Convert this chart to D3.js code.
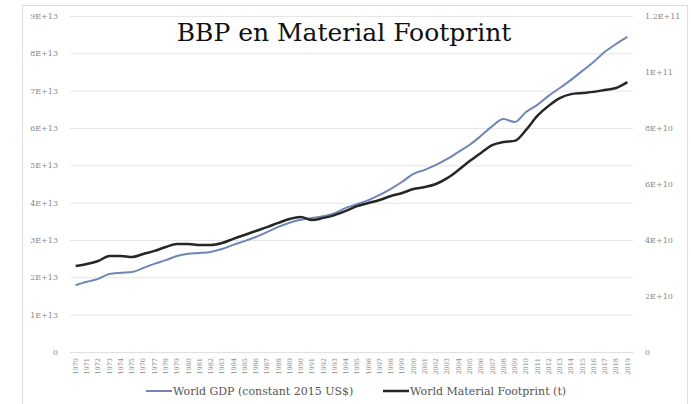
<!DOCTYPE html>
<html>
<head>
<meta charset="utf-8">
<script src="https://cdn.jsdelivr.net/npm/d3@7"></script>
<style>
  body { margin: 0; background: #fff; }
  svg { display: block; font-family: "DejaVu Serif", serif; }
</style>
</head>
<body>
<svg id="chart" width="691" height="404"></svg>
<script>
// years on the category axis
const years = d3.range(1970, 2020)

// World GDP (constant 2015 US$), in units of 1E+13
const gdp = [1.79, 1.88, 1.96, 2.09, 2.12, 2.14, 2.25, 2.36, 2.46, 2.57,
    2.63, 2.65, 2.68, 2.76, 2.87, 2.97, 3.08, 3.21, 3.35, 3.46,
    3.54, 3.59, 3.64, 3.72, 3.86, 3.96, 4.07, 4.21, 4.37, 4.56,
    4.77, 4.88, 5.01, 5.17, 5.36, 5.55, 5.79, 6.05, 6.24, 6.16,
    6.43, 6.62, 6.86, 7.07, 7.29, 7.53, 7.77, 8.04, 8.25, 8.44]

// World Material Footprint (t), in units of 1E+10
const footprint = [3.07, 3.14, 3.25, 3.43, 3.43, 3.39, 3.50, 3.61, 3.75, 3.86,
    3.86, 3.82, 3.82, 3.89, 4.04, 4.18, 4.32, 4.46, 4.61, 4.75,
    4.82, 4.71, 4.79, 4.89, 5.04, 5.21, 5.32, 5.43, 5.57, 5.68,
    5.82, 5.89, 6.00, 6.21, 6.50, 6.82, 7.11, 7.39, 7.50, 7.54,
    7.93, 8.43, 8.79, 9.07, 9.21, 9.25, 9.29, 9.36, 9.43, 9.64]

const leftTicks = [0, 1e13, 2e13, 3e13, 4e13, 5e13, 6e13, 7e13, 8e13, 9e13]
const leftLabels = ["0", "1E+13", "2E+13", "3E+13", "4E+13", "5E+13", "6E+13", "7E+13", "8E+13", "9E+13"]
const rightTicks = [0, 2e10, 4e10, 6e10, 8e10, 1e11, 1.2e11]
const rightLabels = ["0", "2E+10", "4E+10", "6E+10", "8E+10", "1E+11", "1.2E+11"]

const seriesNames = ["World GDP (constant 2015 US$)", "World Material Footprint (t)"]
const seriesColors = ["#6f86b6", "#262626"]

var width = 691,
    height = 404
var margin = { top: 16, right: 58, bottom: 52, left: 70 }

var svg = d3.select("#chart")

// faint chart border
svg.append("rect")
    .attr("x", 22.5).attr("y", 5.5)
    .attr("width", 665).attr("height", 420)
    .attr("fill", "none").attr("stroke", "#dcdcdc")

var x = d3.scaleBand()
    .domain(years)
    .range([margin.left, width - margin.right])
var yL = d3.scaleLinear()
    .domain([0, 9e13])
    .range([height - margin.bottom, margin.top])
var yR = d3.scaleLinear()
    .domain([0, 1.2e11])
    .range([height - margin.bottom, margin.top])

// gridlines from the left axis
svg.append("g")
    .attr("transform", `translate(${margin.left},0)`)
    .call(d3.axisLeft(yL).tickValues(leftTicks).tickSize(-(width - margin.left - margin.right)).tickFormat(""))
    .call(g => g.select(".domain").remove())
    .call(g => g.selectAll("line").attr("stroke", "#e6e6e6"))

// left axis labels
svg.append("g")
    .attr("transform", `translate(${margin.left - 9},0)`)
    .call(d3.axisLeft(yL).tickValues(leftTicks).tickSize(0).tickFormat((d, i) => leftLabels[i]))
    .call(g => g.select(".domain").remove())
    .call(g => g.selectAll("text").attr("fill", "#8a8a8a").attr("font-size", 8).attr("font-family", "DejaVu Serif"))

// right axis labels
svg.append("g")
    .attr("transform", `translate(${width - margin.right + 9},0)`)
    .call(d3.axisRight(yR).tickValues(rightTicks).tickSize(0).tickFormat((d, i) => rightLabels[i]))
    .call(g => g.select(".domain").remove())
    .call(g => g.selectAll("text").attr("fill", "#8a8a8a").attr("font-size", 8).attr("font-family", "DejaVu Serif"))

// category axis
svg.append("g")
    .attr("transform", `translate(0,${height - margin.bottom})`)
    .call(d3.axisBottom(x).tickSize(0))
    .call(g => g.select(".domain").attr("stroke", "#e0e0e0"))
    .call(g => g.selectAll("text")
        .attr("fill", "#8a8a8a")
        .attr("font-size", 6.5)
        .attr("font-family", "DejaVu Serif")
        .attr("text-anchor", "end")
        .attr("dy", "0.35em")
        .attr("transform", "translate(0,6) rotate(-90)")
        .attr("x", 0).attr("y", 0))

var cx = d => x(d) + x.bandwidth() / 2

var lineL = d3.line().x((d, i) => cx(years[i])).y(d => yL(d * 1e13)).curve(d3.curveMonotoneX)
var lineR = d3.line().x((d, i) => cx(years[i])).y(d => yR(d * 1e10)).curve(d3.curveMonotoneX)

svg.append("path").datum(gdp)
    .attr("d", lineL)
    .attr("fill", "none").attr("stroke", seriesColors[0]).attr("stroke-width", 2)

svg.append("path").datum(footprint)
    .attr("d", lineR)
    .attr("fill", "none").attr("stroke", seriesColors[1]).attr("stroke-width", 2.5)

// title
svg.append("text")
    .attr("x", 344).attr("y", 41)
    .attr("text-anchor", "middle")
    .attr("font-size", 25)
    .attr("fill", "#111")
    .text("BBP en Material Footprint")

// legend
var legendX = [146, 383]
var leg = svg.selectAll(".leg").data(seriesNames).join("g").attr("class", "leg")
    .attr("transform", (d, i) => `translate(${legendX[i]},391)`)
leg.append("line")
    .attr("x1", 0).attr("x2", 26)
    .attr("stroke", (d, i) => seriesColors[i])
    .attr("stroke-width", (d, i) => i ? 2.5 : 2)
leg.append("text")
    .attr("x", 27).attr("dy", "0.35em")
    .attr("font-size", 11)
    .attr("fill", "#555")
    .text(d => d)
</script>
</body>
</html>
